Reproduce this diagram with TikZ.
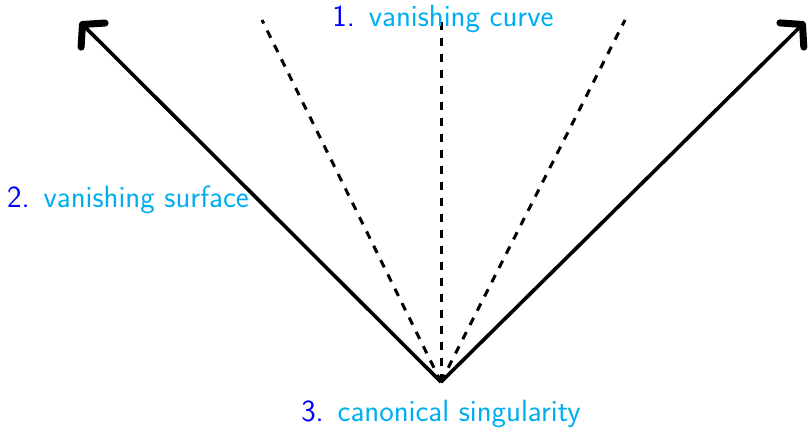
\documentclass[tikz,border=0pt]{standalone}
\usetikzlibrary{arrows.meta}
\definecolor{numblue}{RGB}{0,0,255}
\definecolor{txtcyan}{RGB}{0,174,239}
\begin{document}
\begin{tikzpicture}[x=1pt,y=-1pt,
  lbl/.style={font=\sffamily\fontsize{30.8}{36}\selectfont, inner sep=0pt, anchor=center},
  mainarrow/.style={line width=3.6pt, -{Straight Barb[length=15pt,width=34pt,line width=7pt,round]}},
  dashline/.style={line width=3pt, dash pattern=on 8pt off 8pt}]
\useasboundingbox (0,0) rectangle (808,432);
\coordinate (O) at (441,382);
\coordinate (L) at (80,22);
\coordinate (R) at (805,22);
\coordinate (D1) at (262,20);
\coordinate (D2) at (441,22);
\coordinate (D3) at (625,20);
\draw[dashline] (O) -- (D1);
\draw[dashline] (O) -- (D2);
\draw[dashline] (O) -- (D3);
\draw[mainarrow] (O) -- (L);
\draw[mainarrow] (O) -- (R);
\node[lbl] (t1) at (443,19) {\textcolor{numblue}{1.}\hspace{0.45em}\textcolor{txtcyan}{vanishing curve}};
\node[lbl] (t2) at (128,200) {\textcolor{numblue}{2.}\hspace{0.45em}\textcolor{txtcyan}{vanishing surface}};
\node[lbl] (t3) at (441,414) {\textcolor{numblue}{3.}\hspace{0.45em}\textcolor{txtcyan}{canonical singularity}};
\end{tikzpicture}
\end{document}
